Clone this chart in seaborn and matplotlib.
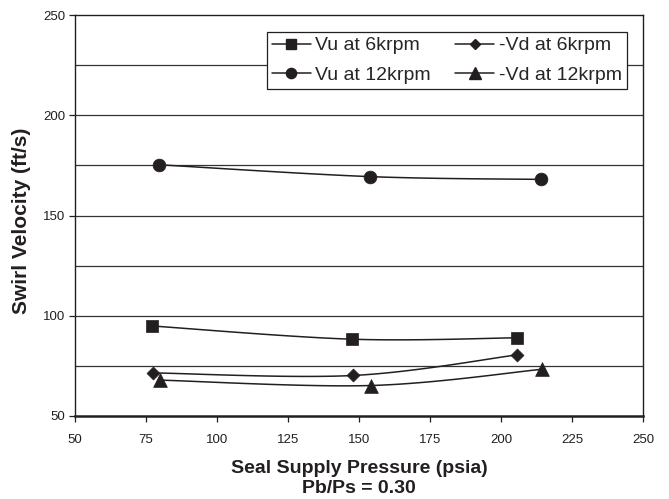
import numpy as np
import pandas as pd
import matplotlib
matplotlib.use("Agg")
import matplotlib.pyplot as plt
import seaborn as sns
from matplotlib.lines import Line2D

# ---- data ----
series_names = ["Vu at 6krpm", "Vu at 12krpm", "-Vd at 6krpm", "-Vd at 12krpm"]
vu6_x = [77.1, 147.6, 205.5]
vu6_y = [94.9, 88.3, 89.0]
vu12_x = [79.7, 153.8, 214.1]
vu12_y = [175.3, 169.4, 168.0]
vd6_x = [77.4, 147.8, 205.7]
vd6_y = [71.5, 70.2, 80.5]
vd12_x = [79.8, 154.1, 214.4]
vd12_y = [67.9, 65.2, 73.3]
x_ticks = [50, 75, 100, 125, 150, 175, 200, 225, 250]
y_ticks = [50, 100, 150, 200, 250]

sns.set_style("white")
plt.rcParams['font.family'] = ['Liberation Sans', 'DejaVu Sans']

INK = "#231f20"
fig = plt.figure(figsize=(6.69, 4.99), dpi=100)
ax = fig.add_axes([75/669, 1-416/499, (643-75)/669, (416-15)/499])

markers = {"Vu at 6krpm": "s", "Vu at 12krpm": "o", "-Vd at 6krpm": "D", "-Vd at 12krpm": "^"}
msize = {"s": 8.9, "o": 9.2, "D": 6.6, "^": 9.9}
data = {
    "Vu at 6krpm": (vu6_x, vu6_y),
    "Vu at 12krpm": (vu12_x, vu12_y),
    "-Vd at 6krpm": (vd6_x, vd6_y),
    "-Vd at 12krpm": (vd12_x, vd12_y),
}


def smooth(xs, ys, n=30):
    P = np.column_stack([xs, ys]).astype(float)
    out = []
    m = len(P)
    for i in range(m - 1):
        p0 = P[i - 1] if i > 0 else P[i]
        p1 = P[i]
        p2 = P[i + 1]
        p3 = P[i + 2] if i + 2 < m else P[i + 1]
        c1 = p1 + (p2 - p0) / 6.0
        c2 = p2 - (p3 - p1) / 6.0
        t = np.linspace(0, 1, n)[:, None]
        seg = ((1 - t) ** 3) * p1 + 3 * ((1 - t) ** 2) * t * c1 + 3 * (1 - t) * t ** 2 * c2 + t ** 3 * p2
        out.append(seg if i == 0 else seg[1:])
    return np.vstack(out)

# gridlines
for yv in np.arange(75, 250, 25):
    ax.axhline(yv, color="#333333", lw=0.9, zorder=0)

for name in series_names:
    xs, ys = data[name]
    curve = smooth(xs, ys)
    ax.plot(curve[:, 0], curve[:, 1], color=INK, lw=1.1, zorder=2)
    df = pd.DataFrame({"x": xs, "y": ys})
    mk = markers[name]
    sns.scatterplot(data=df, x="x", y="y", marker=mk, s=msize[mk] ** 2, color=INK,
                    edgecolor=INK, linewidth=0.5, ax=ax, zorder=3, legend=False)

ax.set_xlim(50, 250)
ax.set_ylim(50, 250)
ax.set_xticks(x_ticks)
ax.set_yticks(y_ticks)
ax.set_xticklabels([str(v) for v in x_ticks], fontsize=9.5, color=INK)
ax.set_yticklabels([str(v) for v in y_ticks], fontsize=9.5, color=INK)
ax.tick_params(axis="x", direction="out", length=4, width=0.9, color=INK, pad=9, bottom=True)
ax.tick_params(axis="y", direction="out", length=4, width=0.9, color=INK, pad=3, left=True)
for side, sp in ax.spines.items():
    sp.set_visible(True)
    sp.set_color(INK)
    sp.set_linewidth(1.0)
ax.spines["bottom"].set_linewidth(1.8)

ax.set_xlabel("Seal Supply Pressure (psia)\nPb/Ps = 0.30", fontsize=14, fontweight="bold",
              color=INK, labelpad=10, linespacing=1.25)
ax.set_ylabel("Swirl Velocity (ft/s)", fontsize=15, fontweight="bold", color=INK)
ax.yaxis.set_label_coords(-0.077, 0.486)

handles = [Line2D([0], [0], color=INK, lw=1.1, marker=markers[n], markersize=msize[markers[n]] * 0.8,
                  markerfacecolor=INK, markeredgecolor=INK) for n in series_names]
leg = ax.legend(handles, series_names, ncol=2, loc="upper right",
                bbox_to_anchor=((627-75)/568, (416-32)/401),
                frameon=True, fancybox=False, fontsize=14, handlelength=2.0, handletextpad=0.25,
                columnspacing=1.25, borderpad=0.25, labelspacing=0.6, borderaxespad=0)
leg.get_frame().set_edgecolor(INK)
leg.get_frame().set_linewidth(0.9)
leg.get_frame().set_facecolor("white")
leg.get_frame().set_alpha(1)
leg.set_zorder(5)

fig.savefig("out.png", dpi=100)
